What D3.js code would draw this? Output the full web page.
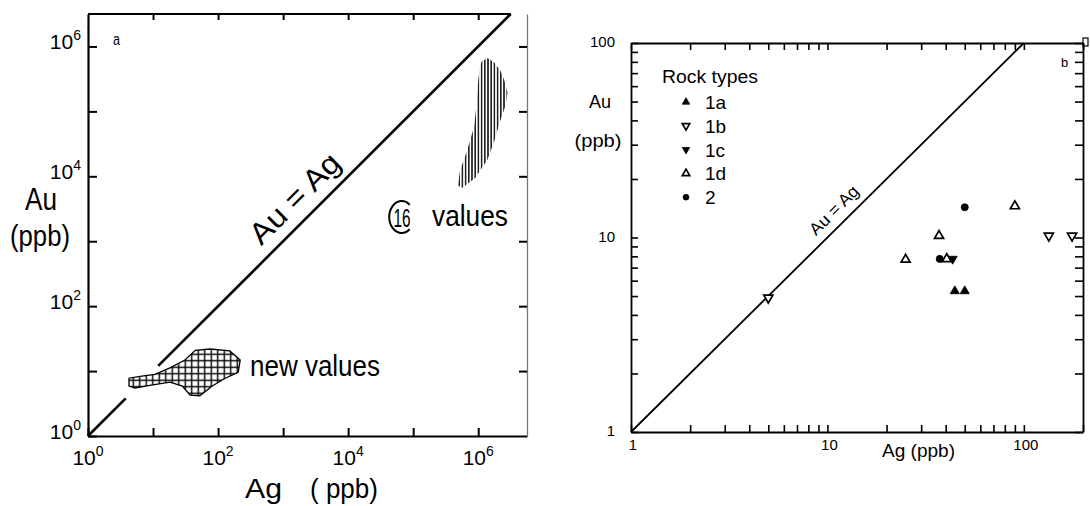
<!DOCTYPE html>
<html>
<head>
<meta charset="utf-8">
<script src="https://cdn.jsdelivr.net/npm/d3@7"></script>
<style>
  body { margin: 0; background: #fff; }
  svg { display: block; }
  text { font-family: "Liberation Sans", Arial, sans-serif; fill: #000; }
</style>
</head>
<body>
<svg id="chart" width="1090" height="506"></svg>
<script>
// ---- panel a : outlines of the two hatched fields, log10(ppb) ----
const newValuesLogAg = [0.63, 0.63, 0.80, 1.03, 1.26, 1.49, 1.65, 1.88, 2.18, 2.34, 2.31, 2.11, 1.91, 1.72, 1.57, 1.45, 1.26, 0.95, 0.72];
const newValuesLogAu = [0.77, 0.89, 0.92, 0.95, 1.05, 1.17, 1.32, 1.34, 1.31, 1.17, 0.98, 0.89, 0.77, 0.62, 0.63, 0.77, 0.83, 0.78, 0.74];
const oldValuesLogAg = [6.06, 6.15, 6.25, 6.34, 6.40, 6.45, 6.42, 6.34, 6.25, 6.14, 5.95, 5.75, 5.69, 5.72, 5.83, 5.94, 5.98, 6.00, 6.03];
const oldValuesLogAu = [5.78, 5.82, 5.75, 5.63, 5.48, 5.29, 5.09, 4.86, 4.55, 4.25, 3.97, 3.82, 3.86, 4.09, 4.40, 4.78, 5.17, 5.48, 5.71];
const decadesA = [1e0, 1e1, 1e2, 1e3, 1e4, 1e5, 1e6];
const labelExpA = [0, 2, 4, 6];
const diagonalA = [[1, 3.8], [12, 3.16e6]];   // Au = Ag, broken under the hatched field

// ---- panel b : samples by rock type ----
const rockTypes = ["1a", "1b", "1c", "1d", "2"];
const sampleAg = [5.0, 50, 90, 37, 134, 176, 25, 37.3, 40.5, 43.4, 44.5, 50];
const sampleAu = [4.9, 14.3, 14.5, 10.2, 10.2, 10.2, 7.7, 7.76, 7.76, 7.76, 5.3, 5.3];
const sampleType = ["1b", "2", "1d", "1d", "1b", "1b", "1d", "2", "1d", "1c", "1a", "1a"];
const tickLabelsB = [1, 10, 100];

const svg = d3.select("#chart");

// ================= panel a =================
const xa = d3.scaleLog().domain([1, 10 ** 6.75]).range([88, 527]);
const ya = d3.scaleLog().domain([1, 10 ** 6.5]).range([436, 14]);
const ga = svg.append("g");

const defs = svg.append("defs");
const cross = defs.append("pattern").attr("id", "cross").attr("patternUnits", "userSpaceOnUse")
  .attr("width", 6.5).attr("height", 6.5);
cross.append("path").attr("d", "M3.25,0V6.5M0,3.25H6.5").attr("stroke", "#000").attr("stroke-width", 1.4);
const vert = defs.append("pattern").attr("id", "vert").attr("patternUnits", "userSpaceOnUse")
  .attr("width", 3.2).attr("height", 10);
vert.append("path").attr("d", "M1.6,0V10").attr("stroke", "#000").attr("stroke-width", 1.4);

// axes
ga.append("g").attr("transform", "translate(0,436)")
  .call(d3.axisBottom(xa).tickValues(decadesA).tickFormat("").tickSizeInner(-8).tickSizeOuter(0));
ga.append("g").attr("transform", "translate(88,0)")
  .call(d3.axisLeft(ya).tickValues(decadesA).tickFormat("").tickSizeInner(-9).tickSizeOuter(0));
ga.append("g").attr("transform", "translate(0,14)")
  .call(d3.axisTop(xa).tickValues(decadesA.slice(1)).tickFormat("").tickSizeInner(-6).tickSizeOuter(0))
  .call(g => g.select(".domain").remove());
ga.append("line").attr("x1", xa(1)).attr("x2", xa(10 ** 6.5)).attr("y1", 14).attr("y2", 14)
  .attr("stroke", "#000").attr("stroke-width", 2);
const rightA = ga.append("g").attr("transform", "translate(527,0)")
  .call(d3.axisRight(ya).tickValues(decadesA.slice(1)).tickFormat("").tickSizeInner(-8).tickSizeOuter(0));
rightA.select(".domain").attr("stroke", "#777").attr("stroke-width", 1.3);
ga.selectAll(".domain").filter(function () { return this.parentNode !== rightA.node(); }).attr("stroke-width", 2.2);
ga.selectAll(".tick line").attr("stroke-width", 2);

// tick labels with superscripts
function pow10(g, x, y, exp, anchor) {
  const t = g.append("text").attr("x", x).attr("y", y).attr("text-anchor", anchor).attr("font-size", 21);
  t.append("tspan").text("10");
  t.append("tspan").attr("dy", -9).attr("font-size", 14).text(exp);
}
labelExpA.forEach(e => pow10(ga, 81, ya(10 ** e) + 3, e, "end"));
labelExpA.forEach(e => pow10(ga, xa(10 ** e), 465, e, "middle"));

// titles
ga.append("text").attr("x", 25).attr("y", 210).attr("font-size", 32).attr("textLength", 32)
  .attr("lengthAdjust", "spacingAndGlyphs").text("Au");
ga.append("text").attr("x", 10).attr("y", 246).attr("font-size", 30).attr("textLength", 60)
  .attr("lengthAdjust", "spacingAndGlyphs").text("(ppb)");
ga.append("text").attr("x", 245).attr("y", 498).attr("font-size", 28).attr("textLength", 37)
  .attr("lengthAdjust", "spacingAndGlyphs").text("Ag");
ga.append("text").attr("x", 310).attr("y", 498).attr("font-size", 28).attr("textLength", 68)
  .attr("lengthAdjust", "spacingAndGlyphs").text("( ppb)");
ga.append("text").attr("x", 113).attr("y", 45).attr("font-size", 17).attr("textLength", 7)
  .attr("lengthAdjust", "spacingAndGlyphs").text("a");

// diagonal Au = Ag
const lineA = d3.line().x(d => xa(d)).y(d => ya(d));
diagonalA.forEach(seg => ga.append("path").attr("d", lineA(seg)).attr("fill", "none")
  .attr("stroke", "#000").attr("stroke-width", 2.6));
{
  const p = [xa(10 ** 3.42), ya(10 ** 3.42)];
  ga.append("text").attr("transform", `translate(${p[0]},${p[1]}) rotate(-45)`)
    .attr("text-anchor", "middle").attr("dy", -12).attr("font-size", 30)
    .attr("textLength", 115).attr("lengthAdjust", "spacingAndGlyphs").text("Au = Ag");
}

// hatched fields
const outline = d3.line().x(d => xa(10 ** d[0])).y(d => ya(10 ** d[1])).curve(d3.curveLinearClosed);
const newPts = d3.zip(newValuesLogAg, newValuesLogAu);
const oldPts = d3.zip(oldValuesLogAg, oldValuesLogAu);
ga.append("path").attr("d", outline(newPts)).attr("fill", "#fff");
ga.append("path").attr("d", outline(newPts)).attr("fill", "url(#cross)")
  .attr("stroke", "#000").attr("stroke-width", 1.3);
ga.append("path").attr("d", outline(oldPts)).attr("fill", "url(#vert)");

ga.append("text").attr("x", 250).attr("y", 376).attr("font-size", 30).attr("textLength", 130)
  .attr("lengthAdjust", "spacingAndGlyphs").text("new values");
ga.append("text").attr("x", 402).attr("y", 227).attr("text-anchor", "middle").attr("font-size", 26)
  .attr("textLength", 17).attr("lengthAdjust", "spacingAndGlyphs").text("16");
ga.append("path").attr("d", "M409.7,204.7A12.5,16 0 1,0 409.7,229.3").attr("fill", "none")
  .attr("stroke", "#000").attr("stroke-width", 2);
ga.append("text").attr("x", 432).attr("y", 226).attr("font-size", 30).attr("textLength", 76)
  .attr("lengthAdjust", "spacingAndGlyphs").text("values");

// ================= panel b =================
const xb = d3.scaleLog().domain([1, 200]).range([631, 1083]);
const yb = d3.scaleLog().domain([1, 100]).range([432, 43]);
const gb = svg.append("g");

const xTicksB = xb.ticks().filter(v => v <= 200);
const yTicksB = yb.ticks();
gb.append("g").attr("transform", "translate(0,432)")
  .call(d3.axisBottom(xb).tickValues(xTicksB).tickFormat("").tickSizeInner(-7).tickSizeOuter(0));
gb.append("g").attr("transform", "translate(631,0)")
  .call(d3.axisLeft(yb).tickValues(yTicksB).tickFormat("").tickSizeInner(-7).tickSizeOuter(0));
gb.append("g").attr("transform", "translate(0,43)")
  .call(d3.axisTop(xb).tickValues(xTicksB).tickFormat("").tickSizeInner(-7).tickSizeOuter(0));
gb.append("g").attr("transform", "translate(1083,0)")
  .call(d3.axisRight(yb).tickValues(yTicksB).tickFormat("").tickSizeInner(-8).tickSizeOuter(0));
gb.selectAll(".domain").attr("stroke-width", 1.8);
gb.selectAll(".tick line").attr("stroke-width", 1.6);
gb.append("rect").attr("x", 1083).attr("y", 38).attr("width", 5).attr("height", 8)
  .attr("fill", "none").attr("stroke", "#000").attr("stroke-width", 1.2);

tickLabelsB.forEach(v => {
  gb.append("text").attr("x", 615).attr("y", yb(v) + 4).attr("text-anchor", "end")
    .attr("font-size", 15).text(v);
  gb.append("text").attr("x", xb(v) + 2).attr("y", 450).attr("text-anchor", "middle")
    .attr("font-size", 15).text(v);
});

gb.append("text").attr("x", 600).attr("y", 108).attr("text-anchor", "middle").attr("font-size", 18).text("Au");
gb.append("text").attr("x", 598).attr("y", 147).attr("text-anchor", "middle").attr("font-size", 18)
  .attr("textLength", 47).attr("lengthAdjust", "spacingAndGlyphs").text("(ppb)");
gb.append("text").attr("x", 882).attr("y", 457).attr("font-size", 18)
  .attr("textLength", 73).attr("lengthAdjust", "spacingAndGlyphs").text("Ag (ppb)");
gb.append("text").attr("x", 1061).attr("y", 67).attr("font-size", 13).text("b");

// diagonal
gb.append("path").attr("d", d3.line().x(d => xb(d)).y(d => yb(d))([1, 100]))
  .attr("stroke", "#000").attr("stroke-width", 1.8).attr("fill", "none");
{
  const p = [xb(12.2), yb(12.2)];
  gb.append("text").attr("transform", `translate(${p[0]},${p[1]}) rotate(-45)`)
    .attr("text-anchor", "middle").attr("dy", -9).attr("font-size", 17)
    .attr("textLength", 62).attr("lengthAdjust", "spacingAndGlyphs").text("Au = Ag");
}

// symbols per rock type
const symStyle = {
  "1a": { type: d3.symbolTriangle, rot: 0, filled: true },
  "1b": { type: d3.symbolTriangle, rot: 180, filled: false },
  "1c": { type: d3.symbolTriangle, rot: 180, filled: true },
  "1d": { type: d3.symbolTriangle, rot: 0, filled: false },
  "2": { type: d3.symbolCircle, rot: 0, filled: true }
};
function drawSymbol(g, t, x, y, size) {
  const s = symStyle[t];
  g.append("path")
    .attr("d", d3.symbol().type(s.type).size(s.type === d3.symbolCircle ? size * 1.1 : size)())
    .attr("transform", `translate(${x},${y}) rotate(${s.rot})`)
    .attr("fill", s.filled ? "#000" : "#fff")
    .attr("stroke", "#000").attr("stroke-width", s.filled ? 0.8 : 1.7);
}
sampleAg.forEach((ag, i) => drawSymbol(gb, sampleType[i], xb(ag), yb(sampleAu[i]), 36));

// legend
gb.append("text").attr("x", 662).attr("y", 83).attr("font-size", 18)
  .attr("textLength", 96).attr("lengthAdjust", "spacingAndGlyphs").text("Rock types");
rockTypes.forEach((t, i) => {
  const y = 102 + i * 23.8;
  drawSymbol(gb, t, 686, y, 24);
  gb.append("text").attr("x", 705).attr("y", y + 7).attr("font-size", 19).text(t);
});
</script>
</body>
</html>
